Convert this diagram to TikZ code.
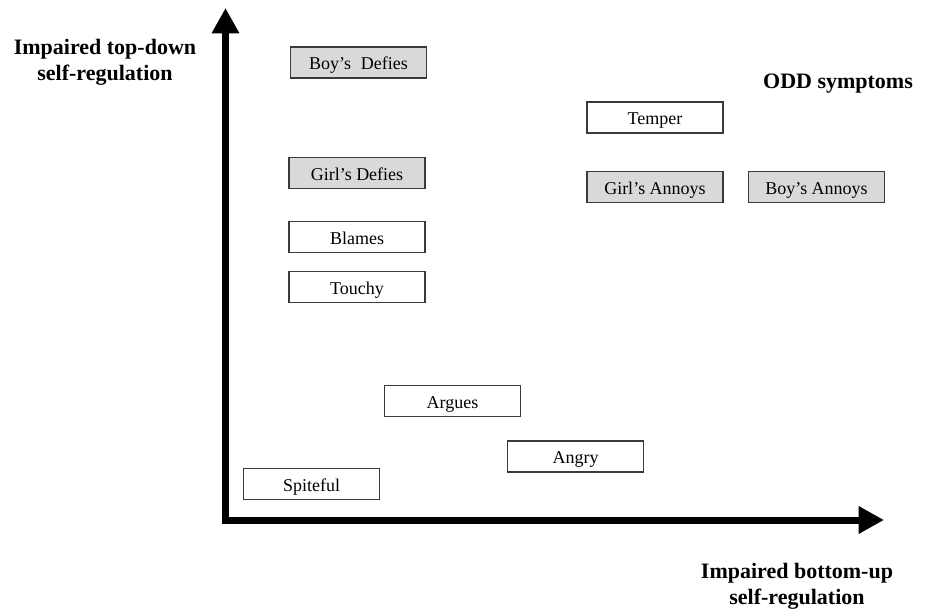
\documentclass[tikz,border=0pt]{standalone}
\usepackage{fontspec}
\setmainfont{Liberation Serif}
\usetikzlibrary{arrows.meta}
\definecolor{boxgray}{HTML}{D9D9D9}
\definecolor{boxline}{HTML}{3A3A3A}
\tikzset{
  symbox/.style={draw=boxline, line width=1.1pt, fill=white, minimum width=102pt,
    minimum height=23.25pt, inner sep=0pt, outer sep=0pt,
    text height=11.3pt, text depth=0.3pt,
    font=\fontsize{13.5}{16}\selectfont},
  graybox/.style={symbox, fill=boxgray},
  axislabel/.style={align=center, font=\fontsize{16.5}{19.5}\selectfont\bfseries},
  axisline/.style={line width=5.25pt, line join=miter,
    {Triangle[length=19pt,width=19.5pt]}-{Triangle[length=19pt,width=19.5pt]}}
}
\begin{document}
\begin{tikzpicture}[x=0.75pt,y=-0.75pt]
\useasboundingbox (0,0) rectangle (928,609);
% axes
\coordinate (ytip) at (225.5,8);
\coordinate (origin) at (225.5,520);
\coordinate (xtip) at (884,520);
\draw[axisline] (ytip) -- (origin) -- (xtip);
% labels
\node[axislabel] (ylab) at (105,62) {Impaired top-down\\self-regulation};
\node[axislabel] (xlab) at (797,586) {Impaired bottom-up\\self-regulation};
\node[font=\fontsize{16.5}{19.5}\selectfont\bfseries] (odd) at (838,84) {ODD symptoms};
% symptom boxes
\node[graybox] (boyDefies) at (358.5,62.5) {Boy’s\hspace{0.55em}Defies};
\node[graybox] (girlDefies) at (357,173) {Girl’s Defies};
\node[symbox] (blames) at (357,237) {Blames};
\node[symbox] (touchy) at (357,287) {Touchy};
\node[symbox] (temper) at (655,117.5) {Temper};
\node[graybox] (girlAnnoys) at (655,187) {Girl’s Annoys};
\node[graybox] (boyAnnoys) at (816.5,187) {Boy’s Annoys};
\node[symbox] (argues) at (452.5,401) {Argues};
\node[symbox] (angry) at (575.5,456.5) {Angry};
\node[symbox] (spiteful) at (311.5,484) {Spiteful};
\end{tikzpicture}
\end{document}
